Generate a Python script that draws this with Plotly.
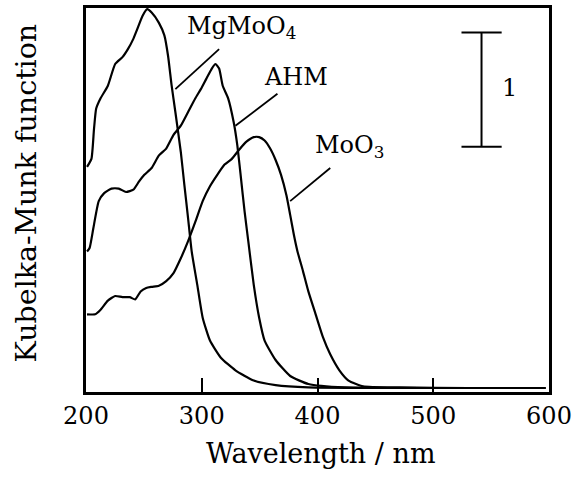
import plotly.graph_objects as go

mg_x = [200.9, 204.7, 206.9, 208.8, 212.6, 218.9, 225.2, 231.5, 236.2, 240.9, 244.1, 248.8, 252.9, 256.7, 263.0, 267.7, 270.9, 274.0, 277.2, 281.9, 285.0, 288.2, 291.3, 296.1, 300.8, 307.1, 316.5, 329.1, 344.9, 363.8, 392.0, 450, 520, 597]
mg_y = [1.97, 2.04, 2.30, 2.48, 2.57, 2.68, 2.87, 2.93, 3.00, 3.09, 3.17, 3.29, 3.35, 3.32, 3.23, 3.12, 2.94, 2.68, 2.45, 2.10, 1.81, 1.52, 1.23, 0.94, 0.65, 0.45, 0.30, 0.19, 0.10, 0.06, 0.04, 0.035, 0.035, 0.035]

ahm_x = [200.9, 203.1, 206.3, 211.0, 215.7, 222.0, 228.3, 234.6, 240.9, 245.7, 250.4, 256.7, 263.0, 269.3, 275.6, 281.9, 288.2, 294.5, 299.2, 303.9, 308.7, 311.8, 315.0, 318.1, 322.8, 327.6, 330.7, 333.9, 337.0, 340.2, 344.9, 349.6, 354.3, 363.8, 376.4, 392.1, 423.6, 500, 597]
ahm_y = [1.23, 1.26, 1.43, 1.67, 1.74, 1.78, 1.78, 1.75, 1.77, 1.84, 1.90, 1.96, 2.07, 2.13, 2.25, 2.33, 2.45, 2.57, 2.65, 2.74, 2.83, 2.87, 2.83, 2.68, 2.57, 2.36, 2.16, 1.87, 1.58, 1.32, 0.94, 0.65, 0.45, 0.28, 0.14, 0.07, 0.04, 0.035, 0.035]

moo3_x = [200.9, 207.9, 212.6, 218.9, 225.2, 231.5, 237.8, 242.5, 247.2, 252.0, 256.7, 263.0, 269.3, 275.6, 281.9, 288.2, 294.5, 300.8, 307.1, 313.4, 319.7, 326.0, 332.3, 338.6, 344.9, 349.6, 354.3, 359.1, 363.8, 368.5, 373.2, 376.4, 379.5, 382.7, 387.4, 392.1, 398.4, 404.7, 411.0, 418.9, 426.8, 439.4, 470.9, 530, 597]
moo3_y = [0.68, 0.68, 0.72, 0.80, 0.84, 0.83, 0.83, 0.81, 0.88, 0.91, 0.92, 0.93, 0.97, 1.04, 1.17, 1.32, 1.49, 1.67, 1.80, 1.90, 1.99, 2.04, 2.12, 2.19, 2.23, 2.23, 2.20, 2.13, 2.03, 1.90, 1.72, 1.55, 1.38, 1.23, 1.06, 0.88, 0.68, 0.48, 0.33, 0.19, 0.10, 0.05, 0.04, 0.035, 0.035]

x_ticks = [200, 300, 400, 500, 600]

font_fam = "DejaVu Serif, Liberation Serif, serif"

fig = go.Figure()
for xs, ys in [(mg_x, mg_y), (ahm_x, ahm_y), (moo3_x, moo3_y)]:
    fig.add_trace(go.Scatter(x=xs, y=ys, mode="lines",
                             line=dict(color="black", width=2.2, shape="spline", smoothing=0.5),
                             showlegend=False, hoverinfo="skip"))

# scale bar
fig.add_trace(go.Scatter(x=[524.4, 559.1, None, 541.7, 541.7, None, 524.4, 559.1],
                         y=[3.145, 3.145, None, 3.145, 2.145, None, 2.145, 2.145],
                         mode="lines", line=dict(color="black", width=2),
                         showlegend=False, hoverinfo="skip"))

# leader lines
leaders = [((315.0, 3.00), (277.2, 2.65)),
           ((365.4, 2.61), (329.1, 2.33)),
           ((411.0, 1.96), (376.4, 1.67))]
for (x0, y0), (x1, y1) in leaders:
    fig.add_trace(go.Scatter(x=[x0, x1], y=[y0, y1], mode="lines",
                             line=dict(color="black", width=1.8),
                             showlegend=False, hoverinfo="skip"))

annots = [
    dict(x=334.0, y=3.19, text="MgMoO<sub>4</sub>"),
    dict(x=381.0, y=2.76, text="AHM"),
    dict(x=428.0, y=2.15, text="MoO<sub>3</sub>"),
    dict(x=566.0, y=2.66, text="1"),
]
for a in annots:
    fig.add_annotation(x=a["x"], y=a["y"], text=a["text"], showarrow=False,
                       font=dict(family=font_fam, size=24, color="black"))

# axis titles as positioned annotations
fig.add_annotation(xref="paper", yref="paper", x=0.508, y=-0.160, text="Wavelength / nm",
                   showarrow=False, xanchor="center", yanchor="middle",
                   font=dict(family=font_fam, size=27, color="black"))
fig.add_annotation(xref="paper", yref="paper", x=-0.128, y=0.519, text="Kubelka-Munk function",
                   showarrow=False, xanchor="center", yanchor="middle", textangle=-90,
                   font=dict(family=font_fam, size=28.5, color="black"))

fig.update_layout(
    width=577, height=479,
    margin=dict(l=86, r=24, t=5, b=87),
    plot_bgcolor="white", paper_bgcolor="white",
    font=dict(family=font_fam, size=24, color="black"),
)
fig.update_xaxes(range=[200, 600], tickvals=x_ticks, ticktext=[str(t) for t in x_ticks],
                 ticks="inside", ticklen=14, tickwidth=2, tickcolor="black",
                 showline=True, linewidth=2.5, linecolor="black", mirror=True,
                 showgrid=False, zeroline=False, ticklabeloverflow="allow",
                 tickfont=dict(size=24))
fig.update_yaxes(range=[0, 3.36], showticklabels=False, ticks="",
                 showline=True, linewidth=2.5, linecolor="black", mirror=True,
                 showgrid=False, zeroline=False)

fig.write_html("out.html")
